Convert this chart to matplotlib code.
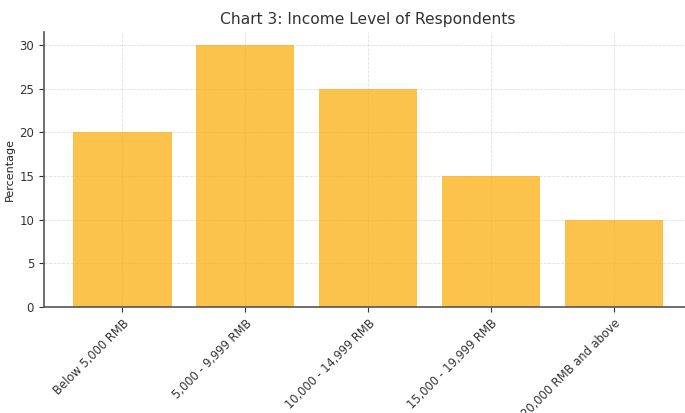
import matplotlib as mpl
import matplotlib.pyplot as plt

mpl.use('AGG')

# Income brackets and share of respondents (%)
income_levels = ['Below 5,000 RMB', '5,000 - 9,999 RMB', '10,000 - 14,999 RMB',
	'15,000 - 19,999 RMB', '20,000 RMB and above']
percentages = [20, 30, 25, 15, 10]

fig = plt.figure(figsize=(6.85, 4.13), dpi=100)
ax = fig.add_axes([0.064, 0.257, 0.947, 0.665])

x = range(len(income_levels))
ax.bar(x, percentages, color='#FAAE10', alpha=0.75, width=0.8)

ax.set_title('Chart 3: Income Level of Respondents', fontsize=11.2, color='#333333', pad=6)
ax.set_ylabel('Percentage', fontsize=8, color='#222222', labelpad=3)
ax.set_xticks(list(x))
ax.set_xticklabels(income_levels, rotation=45, ha='right', rotation_mode='anchor', fontsize=8.3)
ax.tick_params(axis='y', labelsize=8.5)
ax.tick_params(colors='#333333')

ax.grid(True, color='lightgrey', linestyle='--', linewidth=0.6, alpha=0.7)
ax.set_axisbelow(True)

for side in ('top', 'right'):
	ax.spines[side].set_visible(False)
for side in ('left', 'bottom'):
	ax.spines[side].set_color('#555555')
	ax.spines[side].set_linewidth(1.2)

fig.savefig('out.png')
plt.close()
